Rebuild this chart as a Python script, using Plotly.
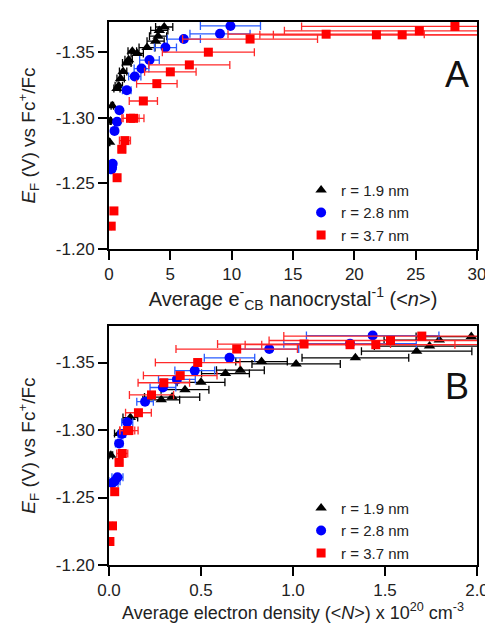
import plotly.graph_objects as go

# ---------------- data ----------------
series_names = ["r = 1.9 nm", "r = 2.8 nm", "r = 3.7 nm"]

# r = 1.9 nm (black triangles)
black_ef = [-1.2813, -1.2975, -1.3092, -1.3224, -1.3244, -1.3299, -1.3353, -1.3418,
            -1.3443, -1.3507, -1.349, -1.3535, -1.3584, -1.3622, -1.3666, -1.3692]
black_n = [0.05, 0.13, 0.27, 0.65, 0.8, 0.95, 1.15, 1.45, 1.6, 1.9, 2.3, 3.1, 3.8, 4.0, 4.1, 4.5]
black_n_err = [0.02, 0.05, 0.1, 0.25, 0.3, 0.3, 0.3, 0.35, 0.3, 0.35, 0.5, 0.65, 0.7, 0.7, 0.7, 0.7]
black_N = [0.01, 0.055, 0.116, 0.284, 0.343, 0.413, 0.50, 0.633, 0.714, 0.829, 1.017, 1.339, 1.672, 1.742, 1.795, 1.969]
black_N_err = [0.01, 0.025, 0.04, 0.1, 0.15, 0.13, 0.13, 0.13, 0.13, 0.14, 0.24, 0.29, 0.3, 0.3, 0.3, 0.3]

# r = 2.8 nm (blue circles)
blue_ef = [-1.2607, -1.262, -1.265, -1.290, -1.297, -1.3057, -1.321, -1.3315,
           -1.3375, -1.344, -1.3535, -1.360, -1.364, -1.370]
blue_n = [0.2, 0.25, 0.3, 0.45, 0.66, 0.85, 1.45, 2.1, 2.65, 3.3, 4.6, 6.1, 9.05, 9.9]
blue_n_err = [0.05, 0.06, 0.08, 0.1, 0.15, 0.2, 0.35, 0.5, 0.6, 0.8, 0.9, 1.35, 2.45, 2.45]
blue_N = [0.019, 0.03, 0.046, 0.055, 0.07, 0.099, 0.196, 0.293, 0.369, 0.466, 0.655, 0.871, 1.31, 1.433]
blue_N_err = [0.03, 0.03, 0.03, 0.02, 0.02, 0.03, 0.045, 0.07, 0.1, 0.108, 0.137, 0.16, 0.36, 0.36]

# r = 3.7 nm (red squares)
red_ef = [-1.2174, -1.229, -1.2543, -1.276, -1.2826, -1.2996, -1.2996, -1.3128,
          -1.326, -1.335, -1.3403, -1.350, -1.360, -1.3637, -1.3632, -1.3632, -1.3663, -1.3696]
red_n = [0.18, 0.4, 0.66, 1.05, 1.3, 1.75, 2.0, 2.8, 3.9, 5.0, 6.55, 8.1, 11.5, 17.7, 21.8, 23.9, 25.3, 28.2]
red_n_err = [0.0, 0.0, 0.0, 0.3, 0.45, 0.7, 0.85, 1.15, 1.65, 2.1, 3.3, 3.75, 5.5, 8.0, 9.5, 10.5, 11.0, 12.5]
red_N = [0.005, 0.019, 0.031, 0.055, 0.072, 0.1, 0.108, 0.16, 0.231, 0.298, 0.387, 0.482, 0.694, 1.06, 1.31, 1.45, 1.53, 1.70]
red_N_err = [0.0, 0.0, 0.0, 0.02, 0.03, 0.04, 0.05, 0.07, 0.12, 0.14, 0.2, 0.23, 0.33, 0.47, 0.57, 0.62, 0.66, 0.75]

y_tickvals = [-1.35, -1.30, -1.25, -1.20]
y_ticktext = ["-1.35", "-1.30", "-1.25", "-1.20"]
xa_tickvals = [0, 5, 10, 15, 20, 25, 30]
xb_tickvals = [0.0, 0.5, 1.0, 1.5, 2.0]
xb_ticktext = ["0.0", "0.5", "1.0", "1.5", "2.0"]

# ---------------- figure ----------------
FONT = "Liberation Sans, Arial, sans-serif"
fig = go.Figure()

styles = [
    dict(symbol="triangle-up", color="#000000", ecolor="#000000", size=10),
    dict(symbol="circle", color="#0000ff", ecolor="#2a5cff", size=10),
    dict(symbol="square", color="#ff0000", ecolor="#ff2a2a", size=9),
]

panelA = [(black_n, black_ef, black_n_err), (blue_n, blue_ef, blue_n_err), (red_n, red_ef, red_n_err)]
panelB = [(black_N, black_ef, black_N_err), (blue_N, blue_ef, blue_N_err), (red_N, red_ef, red_N_err)]

for i, (xs, ys, es) in enumerate(panelA):
    st = styles[i]
    fig.add_trace(go.Scatter(
        x=xs, y=ys, mode="markers", name=series_names[i],
        marker=dict(symbol=st["symbol"], color=st["color"], size=st["size"]),
        error_x=dict(type="data", array=es, visible=True, color=st["ecolor"], thickness=1.3, width=4),
        xaxis="x", yaxis="y", legend="legend"))

for i, (xs, ys, es) in enumerate(panelB):
    st = styles[i]
    fig.add_trace(go.Scatter(
        x=xs, y=ys, mode="markers", name=series_names[i],
        marker=dict(symbol=st["symbol"], color=st["color"], size=st["size"]),
        error_x=dict(type="data", array=es, visible=True, color=st["ecolor"], thickness=1.3, width=4),
        xaxis="x2", yaxis="y2", legend="legend2"))

axis_common = dict(showline=True, linecolor="black", linewidth=2, mirror=True,
                   ticks="outside", ticklen=9, tickwidth=2, tickcolor="black",
                   showgrid=False, zeroline=False,
                   tickfont=dict(family=FONT, size=17, color="#222"))

ytitle = "<i>E</i><sub>F</sub> (V) vs Fc<sup>+</sup>/Fc"

fig.update_layout(
    width=493, height=628,
    margin=dict(l=101, r=14, t=14, b=71),
    paper_bgcolor="white", plot_bgcolor="white",
    font=dict(family=FONT, size=17, color="#222"),
    xaxis=dict(domain=[0, 1], range=[0, 30], tickvals=xa_tickvals, anchor="y",
               title=dict(text="Average e<sup>-</sup><sub>CB</sub> nanocrystal<sup>-1</sup> (&lt;<i>n</i>&gt;)",
                          font=dict(family=FONT, size=20), standoff=7),
               **axis_common),
    yaxis=dict(domain=[0.582, 1], range=[-1.20, -1.373], tickvals=y_tickvals, ticktext=y_ticktext,
               anchor="x", title=dict(text=ytitle, font=dict(family=FONT, size=19), standoff=15),
               **axis_common),
    xaxis2=dict(domain=[0, 1], range=[0, 2.0], tickvals=xb_tickvals, ticktext=xb_ticktext,
                anchor="y2",
                title=dict(text="Average electron density (&lt;<i>N</i>&gt;) x 10<sup>20</sup> cm<sup>-3</sup>",
                           font=dict(family=FONT, size=18), standoff=4),
                **axis_common),
    yaxis2=dict(domain=[0, 0.440], range=[-1.20, -1.377], tickvals=y_tickvals, ticktext=y_ticktext,
                anchor="x2", title=dict(text=ytitle, font=dict(family=FONT, size=19), standoff=15),
                **axis_common),
    legend=dict(x=0.522, y=0.7206, xanchor="left", yanchor="top", bgcolor="rgba(0,0,0,0)",
                font=dict(family=FONT, size=15), tracegroupgap=0, itemsizing="trace"),
    legend2=dict(x=0.522, y=0.135, xanchor="left", yanchor="top", bgcolor="rgba(0,0,0,0)",
                 font=dict(family=FONT, size=15), tracegroupgap=0, itemsizing="trace"),
    annotations=[
        dict(text="A", x=0.945, y=0.904, xref="paper", yref="paper", showarrow=False,
             font=dict(family=FONT, size=36, color="#111"), xanchor="center", yanchor="middle"),
        dict(text="B", x=0.945, y=0.328, xref="paper", yref="paper", showarrow=False,
             font=dict(family=FONT, size=36, color="#111"), xanchor="center", yanchor="middle"),
    ],
)

fig.write_html("out.html")
